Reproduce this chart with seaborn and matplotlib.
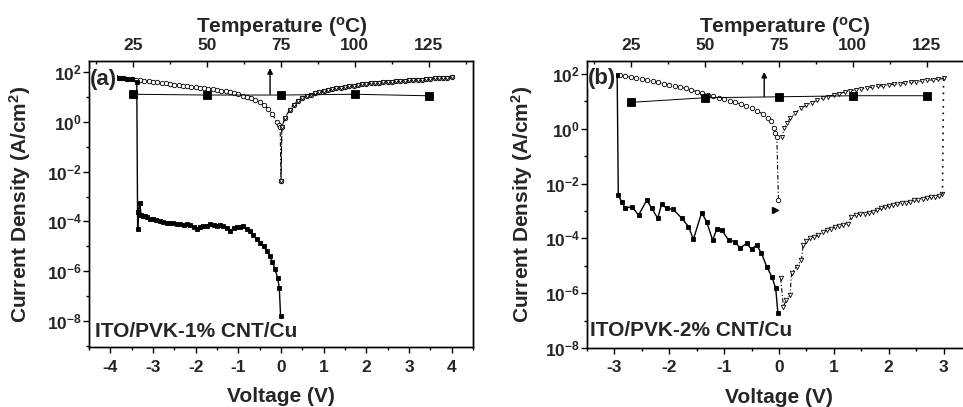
import numpy as np
import matplotlib
matplotlib.use('Agg')
import matplotlib.pyplot as plt
import seaborn as sns
from matplotlib.ticker import FixedLocator, FuncFormatter, MultipleLocator, NullFormatter

# ---------------- panel (a): ITO/PVK-1% CNT/Cu ----------------
# negative sweep, low state (0 -> -3.4 V), then switch to high state
va_hrs = [-0.01, -0.04, -0.08, -0.14, -0.2, -0.26, -0.33, -0.41, -0.49, -0.57,
          -0.65, -0.73, -0.8, -0.88, -0.95, -1.03, -1.1, -1.19, -1.27, -1.35,
          -1.43, -1.5, -1.58, -1.66, -1.74, -1.82, -1.9, -1.97, -2.05, -2.13,
          -2.2, -2.28, -2.36, -2.44, -2.52, -2.6, -2.68, -2.76, -2.84, -2.92,
          -2.99, -3.07, -3.13, -3.18, -3.24, -3.28, -3.31, -3.34, -3.36, -3.38,
          -3.5, -3.6, -3.7, -3.8, -3.9, -4.0]
ja_hrs = [1.6e-8, 2.2e-7, 5.5e-7, 1.2e-6, 2.3e-6, 4.1e-6, 6.5e-6, 1.0e-5, 1.4e-5, 1.9e-5,
          2.8e-5, 4.1e-5, 5.0e-5, 6.5e-5, 5.8e-5, 6.0e-5, 5.6e-5, 4.1e-5, 5.6e-5, 6.3e-5,
          6.9e-5, 6.6e-5, 7.2e-5, 7.6e-5, 6.8e-5, 6.3e-5, 6.0e-5, 5.2e-5, 6.2e-5, 7.0e-5,
          8.1e-5, 7.5e-5, 8.0e-5, 7.8e-5, 8.5e-5, 8.9e-5, 9.0e-5, 9.8e-5, 1.05e-4, 1.1e-4,
          1.2e-4, 1.3e-4, 1.5e-4, 1.6e-4, 1.7e-4, 1.9e-4, 5.6e-4, 2.5e-4, 4.8e-5, 42.0,
          51.0, 54.0, 56.0, 59.0, 62.0, 65.0]

# high state, -4 V -> 0 V
va_neg = [-4.0, -3.9, -3.8, -3.7, -3.6, -3.5, -3.4, -3.3, -3.2, -3.1, -3.0, -2.9, -2.8,
          -2.7, -2.6, -2.5, -2.4, -2.3, -2.2, -2.1, -2.0, -1.9, -1.8, -1.7, -1.6, -1.5,
          -1.4, -1.3, -1.2, -1.1, -1.0, -0.9, -0.8, -0.7, -0.6, -0.5, -0.4, -0.3, -0.2,
          -0.1, -0.05, -0.02, 0.0]
ja_neg = [64.6, 61.7, 58.9, 56.2, 53.7, 51.3, 49.0, 46.8, 44.7, 42.7, 40.7, 38.9, 37.2,
          35.5, 33.9, 31.6, 30.2, 28.8, 27.5, 26.3, 25.1, 24.0, 22.9, 21.4, 20.4, 19.1,
          18.2, 17.0, 15.5, 14.1, 12.9, 11.5, 10.2, 8.9, 7.6, 6.2, 4.8, 3.4, 2.0,
          1.02, 0.76, 0.65, 0.0041]

# positive sweep 0 -> 4 V -> 0 V (both directions overlap)
va_pos = [0.0, 0.02, 0.1, 0.2, 0.3, 0.4, 0.5, 0.6, 0.7, 0.8, 0.9, 1.0, 1.1, 1.2, 1.3,
          1.4, 1.5, 1.6, 1.7, 1.8, 1.9, 2.0, 2.1, 2.2, 2.3, 2.4, 2.5, 2.6, 2.7, 2.8,
          2.9, 3.0, 3.1, 3.2, 3.3, 3.4, 3.5, 3.6, 3.7, 3.8, 3.9, 4.0]
ja_pos = [0.0041, 0.65, 1.5, 3.0, 4.9, 7.1, 9.3, 11.0, 12.6, 14.1, 15.5, 17.0, 18.6,
          20.4, 22.4, 24.0, 25.7, 26.9, 28.8, 30.2, 32.4, 33.9, 35.5, 37.2, 38.0, 38.9,
          40.7, 41.7, 42.7, 43.7, 45.7, 46.8, 47.9, 49.0, 50.1, 52.5, 53.7, 56.2, 57.5,
          58.9, 60.3, 63.1]

# ---------------- panel (b): ITO/PVK-2% CNT/Cu ----------------
vb_hrs = [-0.02, -0.06, -0.13, -0.22, -0.32, -0.41, -0.5, -0.59, -0.71, -0.8, -0.92,
          -1.04, -1.13, -1.21, -1.32, -1.41, -1.56, -1.65, -1.77, -1.93, -2.05, -2.14,
          -2.21, -2.32, -2.41, -2.56, -2.68, -2.8, -2.87, -2.93, -2.95]
jb_hrs = [1.85e-7, 1.5e-6, 4.0e-6, 8.9e-6, 2.9e-5, 5.8e-5, 4.0e-5, 6.6e-5, 4.4e-5, 7.6e-5,
          8.7e-5, 2.0e-4, 2.3e-4, 8.7e-5, 4.1e-4, 8.7e-4, 9.3e-5, 2.7e-4, 5.4e-4, 1.15e-3,
          1.26e-3, 1.8e-3, 5.4e-4, 1.26e-3, 2.5e-3, 7.1e-4, 1.45e-3, 1.26e-3, 2.2e-3,
          3.8e-3, 92.0]

vb_neg = [-3.0, -2.9, -2.8, -2.7, -2.6, -2.5, -2.4, -2.3, -2.2, -2.1, -2.0, -1.9, -1.8,
          -1.7, -1.6, -1.5, -1.4, -1.3, -1.2, -1.1, -1.0, -0.9, -0.8, -0.7, -0.6, -0.5,
          -0.4, -0.3, -0.2, -0.15, -0.1, -0.07, -0.04, -0.01]
jb_neg = [93.3, 89.1, 83.2, 77.6, 72.4, 67.6, 60.3, 55.0, 50.1, 44.7, 40.7, 37.2, 33.1,
          30.2, 26.3, 22.9, 20.0, 17.8, 15.5, 13.8, 12.0, 10.7, 9.3, 7.9, 6.8, 5.6,
          4.6, 3.5, 2.5, 2.0, 1.1, 0.71, 0.51, 0.0025]

# positive sweep, low state 0 -> 3 V
vb_low = [0.03, 0.08, 0.13, 0.2, 0.23, 0.32, 0.41, 0.44, 0.5, 0.56, 0.64, 0.72, 0.8,
          0.87, 0.95, 1.02, 1.1, 1.17, 1.25, 1.32, 1.4, 1.48, 1.56, 1.64, 1.71, 1.78,
          1.86, 1.93, 2.0, 2.08, 2.16, 2.24, 2.31, 2.39, 2.46, 2.54, 2.62, 2.69, 2.77,
          2.85, 2.92, 2.98]
jb_low = [3.5e-6, 3.2e-7, 5.6e-7, 8.5e-7, 5.4e-6, 9.3e-6, 1.7e-5, 5.8e-5, 8.0e-5, 1.0e-4,
          1.15e-4, 1.3e-4, 1.7e-4, 2.0e-4, 2.3e-4, 2.6e-4, 2.8e-4, 3.1e-4, 3.5e-4, 6.2e-4,
          7.0e-4, 7.8e-4, 8.0e-4, 8.8e-4, 9.5e-4, 1.1e-3, 1.25e-3, 1.4e-3, 1.5e-3, 1.66e-3,
          1.8e-3, 1.9e-3, 2.0e-3, 2.2e-3, 2.5e-3, 2.6e-3, 2.8e-3, 2.9e-3, 3.2e-3, 3.3e-3,
          3.6e-3, 4.1e-3]

# switching at 3 V
vb_set = [2.98, 3.0]
jb_set = [4.1e-3, 69.2]

# high state 3 V -> 0 V
vb_high = [3.0, 2.9, 2.8, 2.7, 2.6, 2.5, 2.4, 2.3, 2.2, 2.1, 2.0, 1.9, 1.8, 1.7, 1.6,
           1.5, 1.4, 1.3, 1.2, 1.1, 1.0, 0.9, 0.8, 0.7, 0.6, 0.5, 0.4, 0.3, 0.2, 0.15,
           0.1, 0.05]
jb_high = [69.2, 64.6, 61.7, 58.9, 56.2, 52.5, 50.1, 47.9, 44.7, 42.7, 40.7, 38.0, 35.5,
           33.1, 30.9, 28.8, 26.9, 24.5, 21.9, 19.5, 17.4, 15.1, 13.2, 11.2, 9.1, 7.4,
           5.6, 3.9, 2.4, 1.66, 1.07, 0.51]

# ---------------- temperature data (top axis) ----------------
temps = [25, 50, 75, 100, 125]
ja_temp = [12.9, 12.0, 12.0, 12.9, 11.2]
jb_temp = [9.3, 13.7, 14.8, 16.2, 16.2]
arrow_a = (71.3, 13.0, 145.0)
arrow_b = (70.0, 15.0, 120.0)

sns.set_theme(style='ticks')
plt.rcParams['font.family'] = ['Liberation Sans', 'DejaVu Sans']
plt.rcParams['font.weight'] = 'bold'
plt.rcParams['mathtext.fontset'] = 'custom'
plt.rcParams['mathtext.rm'] = 'Liberation Sans:bold'
plt.rcParams['mathtext.it'] = 'Liberation Sans:bold'
plt.rcParams['mathtext.bf'] = 'Liberation Sans:bold'
plt.rcParams['axes.unicode_minus'] = False

DASHDOT = (0, (4, 2, 1, 2))
TICK_FS = 12.5
LABEL_FS = 15

fig = plt.figure(figsize=(9.63, 4.07), dpi=100)
ax_a = fig.add_axes([89 / 963, 1 - 347 / 407, 384 / 963, 286 / 407])
ax_b = fig.add_axes([587 / 963, 1 - 348 / 407, 384 / 963, 287 / 407])


def line(ax, x, y, marker, ls, ms, mfc='white', lw=0.8, mew=0.6, z=2):
    sns.lineplot(x=x, y=y, ax=ax, sort=False, estimator=None, color='black',
                 marker=marker, markersize=ms, markerfacecolor=mfc,
                 markeredgecolor='black', markeredgewidth=mew,
                 linestyle=ls, linewidth=lw, zorder=z)


def style(ax, xlim, ylim, xticks, yticks, ymin_ticks, label, name, txt_pos, ylab_x, temp_x):
    ax.set_yscale('log')
    ax.set_xlim(*xlim)
    ax.set_ylim(*ylim)
    ax.xaxis.set_major_locator(FixedLocator(xticks))
    ax.xaxis.set_minor_locator(MultipleLocator(0.5))
    ax.yaxis.set_major_locator(FixedLocator(yticks))
    ax.yaxis.set_minor_locator(FixedLocator(ymin_ticks))
    ax.yaxis.set_major_formatter(FuncFormatter(lambda v, p: r'$10^{%d}$' % round(np.log10(v))))
    ax.yaxis.set_minor_formatter(NullFormatter())
    ax.xaxis.set_major_formatter(FuncFormatter(lambda v, p: '%d' % round(v)))
    ax.tick_params(which='both', direction='out', top=False, right=False,
                   labelsize=TICK_FS, width=1.0, color='black')
    ax.tick_params(axis='x', which='major', length=4, pad=5)
    ax.tick_params(axis='x', which='minor', length=2.5)
    ax.tick_params(axis='y', which='major', length=4, pad=1)
    ax.tick_params(axis='y', which='minor', length=2.5)
    for s in ax.spines.values():
        s.set_linewidth(1.0)
        s.set_color('black')
    ax.set_xlabel('Voltage (V)', fontsize=LABEL_FS, fontweight='bold')
    ax.set_ylabel('Current Density (A/cm$^{2}$)', fontsize=LABEL_FS, fontweight='bold')
    ax.xaxis.set_label_coords(0.5, -0.14)
    ax.yaxis.set_label_coords(ylab_x, 0.5)
    ax.text(0.002, txt_pos[0], label, transform=ax.transAxes, fontsize=16,
            fontweight='bold', va='baseline', ha='left', zorder=10,
            bbox=dict(fc='white', ec='none', pad=0.3))
    ax.text(txt_pos[1], txt_pos[2], name, transform=ax.transAxes, fontsize=15,
            fontweight='bold', va='baseline', ha='left', zorder=10)

    axt = ax.twiny()
    axt.set_xlim(10, 140)
    axt.xaxis.set_major_locator(FixedLocator(temps))
    axt.xaxis.set_minor_locator(MultipleLocator(12.5))
    axt.tick_params(which='both', direction='in', labelsize=TICK_FS, width=1.0, color='black')
    axt.tick_params(which='major', length=4, pad=6)
    axt.tick_params(which='minor', length=2.5)
    axt.set_xlabel('Temperature ($^{o}$C)', fontsize=LABEL_FS, fontweight='bold')
    axt.xaxis.set_label_coords(temp_x, 1.1)
    for s in axt.spines.values():
        s.set_linewidth(1.0)
        s.set_color('black')
    return axt


# panel (a)
ax_a.set_yscale('log')
line(ax_a, va_neg, ja_neg, 'o', DASHDOT, 3.2)
line(ax_a, va_pos, ja_pos, 'o', DASHDOT, 3.2)
line(ax_a, va_pos[::-1], ja_pos[::-1], 'v', DASHDOT, 3.0)
line(ax_a, va_hrs, ja_hrs, 's', '-', 2.4, mfc='black', lw=1.0, z=3)
axt_a = style(ax_a, (-4.5, 4.5), (9e-10, 2.8e2), [-4, -3, -2, -1, 0, 1, 2, 3, 4],
              [1e-8, 1e-6, 1e-4, 1e-2, 1e0, 1e2], [1e-9, 1e-7, 1e-5, 1e-3, 1e-1, 1e1],
              '(a)', 'ITO/PVK-1% CNT/Cu', (0.915, 0.016, 0.035), -0.146, 0.503)
line(axt_a, temps, ja_temp, 's', '-', 5.5, mfc='black', lw=0.7)
axt_a.annotate('', xy=(arrow_a[0], arrow_a[2]), xytext=(arrow_a[0], arrow_a[1]),
               arrowprops=dict(arrowstyle='-|>', color='black', lw=1.0,
                               mutation_scale=8, shrinkA=0, shrinkB=0))

# panel (b)
ax_b.set_yscale('log')
line(ax_b, vb_neg, jb_neg, 'o', DASHDOT, 3.2)
line(ax_b, vb_low, jb_low, 'v', DASHDOT, 3.2)
line(ax_b, vb_set, jb_set, None, (0, (1, 3)), 3.0, lw=1.2)
line(ax_b, vb_high, jb_high, 'v', DASHDOT, 3.0)
line(ax_b, vb_hrs, jb_hrs, 's', '-', 2.4, mfc='black', lw=1.0, z=3)
ax_b.plot([-0.07], [1.1e-3], marker='>', color='black', markersize=4, linestyle='none')
axt_b = style(ax_b, (-3.5, 3.5), (1e-8, 3e2), [-3, -2, -1, 0, 1, 2, 3],
              [1e-8, 1e-6, 1e-4, 1e-2, 1e0, 1e2], [1e-7, 1e-5, 1e-3, 1e-1, 1e1],
              '(b)', 'ITO/PVK-2% CNT/Cu', (0.92, 0.008, 0.042), -0.135, 0.515)
line(axt_b, temps, jb_temp, 's', '-', 5.5, mfc='black', lw=0.7)
axt_b.annotate('', xy=(arrow_b[0], arrow_b[2]), xytext=(arrow_b[0], arrow_b[1]),
               arrowprops=dict(arrowstyle='-|>', color='black', lw=1.0,
                               mutation_scale=8, shrinkA=0, shrinkB=0))

fig.savefig('out.png', dpi=100)
